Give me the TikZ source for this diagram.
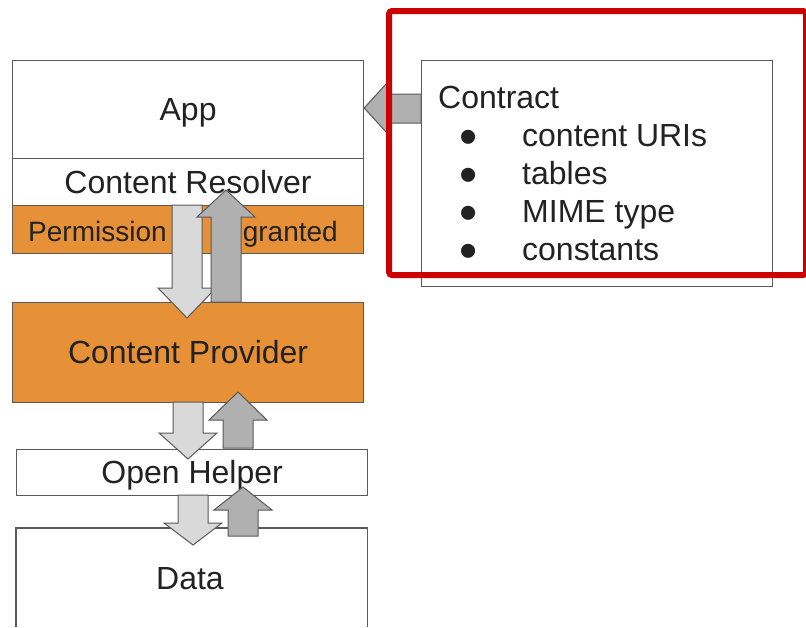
\documentclass[tikz,border=0pt]{standalone}
\usepackage{fontspec}
\setmainfont{Liberation Sans}

\definecolor{provorange}{HTML}{E69138}
\definecolor{boxline}{HTML}{595959}
\definecolor{inktext}{HTML}{222222}
\definecolor{lightarrow}{HTML}{D9D9D9}
\definecolor{darkarrow}{HTML}{B0B0B0}
\definecolor{markred}{HTML}{CC0000}

% vertical block arrow: style, centre x, base y, head base y, tip y
\newcommand{\vblock}[5]{%
  \draw[#1] (#2-15,#3) -- (#2-15,#4) -- (#2-29,#4) -- (#2,#5)
    -- (#2+29,#4) -- (#2+15,#4) -- (#2+15,#3) -- cycle;}

\begin{document}
\begin{tikzpicture}[x=1pt,y=-1pt,font=\fontsize{32}{38}\selectfont,text=inktext,
    layer/.style={draw=boxline,line width=1.2pt,minimum width=351pt,inner sep=0pt,
      text height=22pt,text depth=0pt,anchor=north west},
    orangelayer/.style={layer,fill=provorange},
    label text/.style={inner sep=0pt,font=\fontsize{28}{32}\selectfont},
    downarrow/.style={draw=boxline,line width=1pt,fill=lightarrow},
    uparrow/.style={draw=boxline,line width=1pt,fill=darkarrow}]
  \useasboundingbox (0,0) rectangle (806,627);

  % left stack
  \node[layer,minimum height=98pt] (app) at (12,60) {App};
  \node[layer,minimum height=47pt] (resolver) at (12,158) {Content Resolver};
  \node[orangelayer,minimum height=48pt] (permission) at (12,205) {};
  \node[label text,anchor=base west] (permtext) at (28,241) {Permission};
  \node[label text,anchor=base east] (grantedtext) at (338,241) {granted};
  \node[orangelayer,minimum height=100pt] (provider) at (12,302) {Content Provider};
  \node[layer,minimum height=46pt] (helper) at (16,449) {Open Helper};
  \node[inner sep=0pt,minimum width=351pt,minimum height=99pt,anchor=north west] (data) at (16,528) {};
  \draw[boxline,line width=1.2pt] (data.south west) |- (data.north east) -- (data.south east);
  \node[inner sep=0pt,anchor=base] (datatext) at (190,589) {Data};

  % contract
  \node[layer,minimum height=226pt] (contract) at (421,60) {};
  \node[inner sep=0pt,anchor=base west] (contracttext) at (438,108) {Contract};
  \foreach \txt [count=\i] in {content URIs,tables,MIME type,constants}{
    \node[inner sep=0pt,anchor=base] (bullet\i) at (469,108+38*\i+8) {\scalebox{1.62}{\textbullet}};
    \node[inner sep=0pt,anchor=base west] (entry\i) at (522,108+38*\i) {\txt};
  }
  \draw[uparrow] (contract.west |- 0,94) -- (387,94) -- (387,83) -- (app.east |- 0,108)
    -- (387,133) -- (387,123) -- (contract.west |- 0,123) -- cycle;

  % data flow
  \vblock{downarrow}{187}{205}{288}{318}
  \vblock{uparrow}{226}{302}{217}{190}
  \vblock{downarrow}{188}{402}{433}{459}
  \vblock{uparrow}{238}{448}{420}{392}
  \vblock{downarrow}{193}{495}{523}{545}
  \vblock{uparrow}{243}{536}{510}{487}

  % highlight
  \draw[markred,line width=6pt,rounded corners=3pt] (389,11) rectangle (806,275);
\end{tikzpicture}
\end{document}
